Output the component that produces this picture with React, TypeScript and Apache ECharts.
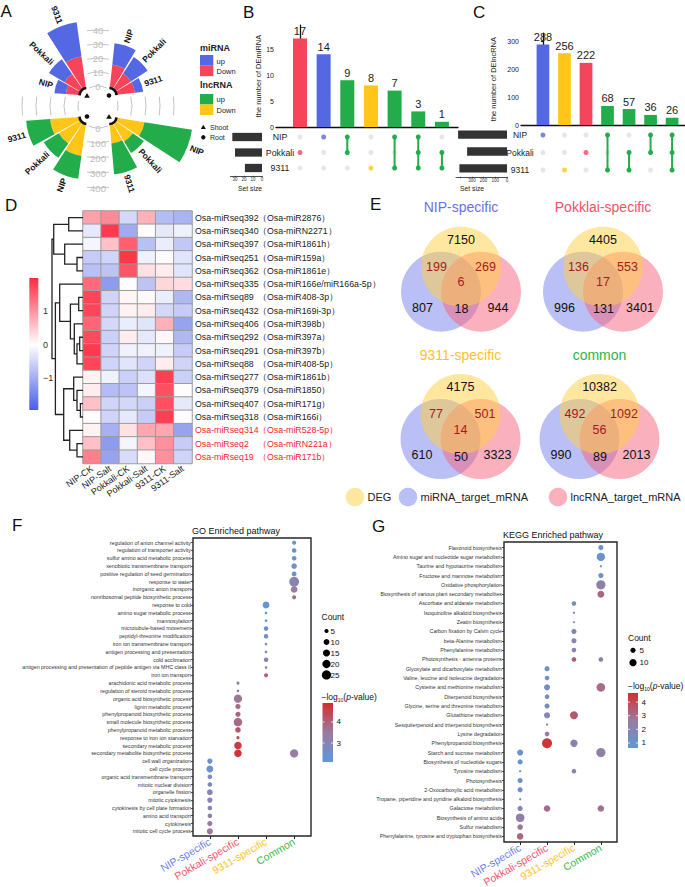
import React, { useEffect, useRef } from "react";
import * as echarts from "echarts";

const FONT = "'Liberation Sans', Arial, Helvetica, sans-serif";
const C_BLUE = "#5568E3";
const C_RED = "#F6455B";
const C_GREEN = "#23AD4A";
const C_YELLOW = "#FFC619";
const C_GRAY = "#E0E0E0";

// ---------------- Panel A (radial bars) ----------------
const miShootCats = ["9311", "Pokkali", "NIP"];
const miShootDown = [19, 11, 8];
const miShootUp = [21, 11, 7];
const miRootCats = ["NIP", "Pokkali", "9311"];
const miRootDown = [14, 11, 11];
const miRootUp = [13, 12, 5];
const lncRootCats = ["9311", "Pokkali", "NIP"];
const lncRootDown = [167, 144, 183];
const lncRootUp = [139, 100, 134];
const lncShootCats = ["NIP", "Pokkali", "9311"];
const lncShootDown = [161, 122, 111];
const lncShootUp = [278, 78, 178];
const miTicks = [0, 10, 20, 30, 40];
const lncTicks = [0, 100, 200, 300, 400];

// ---------------- Panels B / C (upset) ----------------
const setNames = ["NIP", "Pokkali", "9311"];
const miCombos = [["Pokkali"], ["NIP"], ["NIP", "Pokkali"], ["9311"], ["NIP", "9311"], ["NIP", "Pokkali", "9311"], ["Pokkali", "9311"]];
const miComboCounts = [17, 14, 9, 8, 7, 3, 1];
const miSetSize = [33, 30, 19];
const miSetTicks = [0, 10, 20, 30];
const lncCombos = [["NIP"], ["9311"], ["Pokkali"], ["NIP", "9311"], ["Pokkali", "9311"], ["NIP", "Pokkali"], ["NIP", "Pokkali", "9311"]];
const lncComboCounts = [288, 256, 222, 68, 57, 36, 26];
const lncSetSize = [418, 341, 407];
const lncSetTicks = [0, 100, 200, 300];

// ---------------- Panel D (heatmap) ----------------
const hmRows = ["Osa-miRseq392", "Osa-miRseq340", "Osa-miRseq397", "Osa-miRseq251", "Osa-miRseq362", "Osa-miRseq335", "Osa-miRseq89", "Osa-miRseq432", "Osa-miRseq406", "Osa-miRseq292", "Osa-miRseq291", "Osa-miRseq88", "Osa-miRseq277", "Osa-miRseq379", "Osa-miRseq407", "Osa-miRseq318", "Osa-miRseq314", "Osa-miRseq2", "Osa-miRseq19"];
const hmAlias = ["Osa-miR2876", "Osa-miRN2271", "Osa-miR1861h", "Osa-miR159a", "Osa-miR1861e", "Osa-miR166e/miR166a-5p", "Osa-miR408-3p", "Osa-miR169i-3p", "Osa-miR398b", "Osa-miR397a", "Osa-miR397b", "Osa-miR408-5p", "Osa-miR1861b", "Osa-miR1850", "Osa-miR171g", "Osa-miR166i", "Osa-miR528-5p", "Osa-miRN221a", "Osa-miR171b"];
const hmCols = ["NIP-CK", "NIP-Salt", "Pokkali-CK", "Pokkali-Salt", "9311-CK", "9311-Salt"];
const hmValues = [
  [0.9, 1.1, -0.45, 0.75, -0.8, -0.9],
  [-0.25, 1.85, -1.0, 0.05, -0.25, -0.15],
  [-0.1, 0.6, 1.5, -0.75, -0.2, -0.65],
  [-0.6, -0.5, 1.9, -0.15, 0.05, -0.3],
  [-0.75, -0.7, 1.6, 0.3, 0.2, -0.3],
  [1.4, -1.2, 0.0, -0.7, 0.4, 0.35],
  [1.75, -0.5, 0.12, 0.08, -0.2, -0.85],
  [1.75, -0.5, 0.15, 0.2, -0.45, -0.6],
  [1.45, -0.45, -0.2, -0.3, 0.75, -1.1],
  [1.7, -0.55, 0.2, -0.25, 0.1, -0.85],
  [1.85, -0.5, -0.15, -0.15, -0.15, -0.6],
  [1.75, -0.5, -0.3, -0.5, 0.2, -0.5],
  [0.15, -0.15, -0.55, -0.35, 1.8, -0.55],
  [0.2, -0.8, -0.7, -0.1, 1.65, 0.05],
  [0.6, -0.5, -0.45, -0.55, 1.65, -0.25],
  [0.05, -0.5, -0.25, -0.6, 1.8, 0.05],
  [0.15, -0.95, 0.3, 0.85, 0.85, -1.1],
  [0.6, -1.2, -0.1, 0.6, 1.05, -0.6],
  [1.2, -1.1, -0.4, 0.1, 1.05, -0.5],
];
const hmHighlight = ["Osa-miRseq314", "Osa-miRseq2", "Osa-miRseq19"];
const hmMin = -1.95;
const hmMax = 2.0;
const hmTicks = [1, 0, -1];
// [left child, right child, height]; leaves 0..18, merged nodes 19..
const dendroMerges = [
  [3, 4, 6], [2, 19, 18.3], [0, 1, 14.3], [21, 20, 29.3],
  [6, 7, 4.3], [9, 10, 3.3], [24, 11, 6], [8, 25, 8.7], [23, 26, 12.6], [5, 27, 23.3],
  [14, 15, 2.6], [13, 29, 6], [12, 30, 9.3], [17, 18, 6], [16, 32, 13.3],
  [31, 33, 19.3], [28, 34, 27.6], [22, 35, 31],
];

// ---------------- Panel E (venn) ----------------
const vennTitles = ["NIP-specific", "Pokklai-specific", "9311-specific", "common"];
const vennTitleColors = ["#6474E6", "#F2506A", "#FFC21F", "#2EB34C"];
const vennDEG = [7150, 4405, 4175, 10382];
const vennDEGmi = [199, 136, 77, 492];
const vennDEGlnc = [269, 553, 501, 1092];
const vennAll = [6, 17, 14, 56];
const vennMi = [807, 996, 610, 990];
const vennMiLnc = [18, 131, 50, 89];
const vennLnc = [944, 3401, 3323, 2013];
const vennLegend = ["DEG", "miRNA_target_mRNA", "lncRNA_target_mRNA"];

// ---------------- Panel F (GO) ----------------
const enrichCols = ["NIP-specific", "Pokkali-specific", "9311-specific", "Common"];
const enrichColColors = ["#6B7CEB", "#F4516E", "#FFC21A", "#33B847"];
const goTerms = [
  "regulation of anion channel activity", "regulation of transporter activity", "sulfur amino acid metabolic process",
  "xenobiotic transmembrane transport", "positive regulation of seed germination", "response to water",
  "inorganic anion transport", "nonribosomal peptide biosynthetic process", "response to cold",
  "amino sugar metabolic process", "mannosylation", "microtubule-based movement", "peptidyl-threonine modification",
  "iron ion transmembrane transport", "antigen processing and presentation", "cold acclimation",
  "antigen processing and presentation of peptide antigen via MHC class II", "iron ion transport",
  "arachidonic acid metabolic process", "regulation of steroid metabolic process", "organic acid biosynthetic process",
  "lignin metabolic process", "phenylpropanoid biosynthetic process", "small molecule biosynthetic process",
  "phenylpropanoid metabolic process", "response to iron ion starvation", "secondary metabolic process",
  "secondary metabolite biosynthetic process", "cell wall organization", "cell cycle process",
  "organic acid transmembrane transport", "mitotic nuclear division", "organelle fission", "mitotic cytokinesis",
  "cytokinesis by cell plate formation", "amino acid transport", "cytokinesis", "mitotic cell cycle process",
];
// [term index, count, -log10(p)]
const goNIP = [[28, 8, 2.3], [29, 14, 2.4], [30, 6, 2.7], [31, 6, 2.9], [32, 10, 3.0], [33, 8, 3.0], [34, 6, 3.1], [35, 6, 3.2], [36, 8, 3.4], [37, 11, 3.5]];
const goPokkali = [[18, 3, 3.4], [19, 2, 3.5], [20, 20, 3.6], [21, 8, 3.8], [22, 8, 3.9], [23, 21, 3.8], [24, 9, 4.2], [25, 3, 4.5], [26, 17, 4.7], [27, 17, 4.8]];
const go9311 = [[8, 14, 2.2], [9, 2, 2.3], [10, 2, 2.3], [11, 6, 2.4], [12, 6, 2.6], [13, 2, 2.8], [14, 2, 2.9], [15, 6, 3.1], [16, 2, 3.3], [17, 5, 3.9]];
const goCommon = [[0, 5, 2.3], [1, 6, 2.3], [2, 6, 2.4], [3, 9, 2.5], [4, 7, 2.5], [5, 28, 3.1], [6, 13, 3.4], [7, 5, 3.7], [27, 20, 3.4]];
const goCountLegend = [5, 10, 15, 20, 25];
const goPTicks = [3, 4];

// ---------------- Panel G (KEGG) ----------------
const keggTerms = [
  "Flavonoid biosynthesis", "Amino sugar and nucleotide sugar metabolism", "Taurine and hypotaurine metabolism",
  "Fructose and mannose metabolism", "Oxidative phosphorylation", "Biosynthesis of various plant secondary metabolites",
  "Ascorbate and aldarate metabolism", "Isoquinoline alkaloid biosynthesis", "Zeatin biosynthesis",
  "Carbon fixation by Calvin cycle", "beta-Alanine metabolism", "Phenylalanine metabolism",
  "Photosynthesis - antenna proteins", "Glyoxylate and dicarboxylate metabolism", "Valine, leucine and isoleucine degradation",
  "Cysteine and methionine metabolism", "Diterpenoid biosynthesis", "Glycine, serine and threonine metabolism",
  "Glutathione metabolism", "Sesquiterpenoid and triterpenoid biosynthesis", "Lysine degradation",
  "Phenylpropanoid biosynthesis", "Starch and sucrose metabolism", "Biosynthesis of nucleotide sugars",
  "Tyrosine metabolism", "Photosynthesis", "2-Oxocarboxylic acid metabolism",
  "Tropane, piperidine and pyridine alkaloid biosynthesis", "Galactose metabolism", "Biosynthesis of amino acids",
  "Sulfur metabolism", "Phenylalanine, tyrosine and tryptophan biosynthesis",
];
const keggNIP = [[22, 7, 1.0], [23, 5, 1.0], [24, 1, 1.1], [25, 5, 1.1], [26, 5, 1.2], [27, 1, 1.3], [28, 5, 1.8], [29, 14, 2.3], [30, 6, 2.8], [31, 8, 3.2]];
const keggPokkali = [[13, 5, 1.2], [14, 4, 1.2], [15, 7, 1.3], [16, 4, 1.4], [17, 5, 1.5], [18, 7, 1.8], [19, 1, 1.9], [20, 4, 2.4], [21, 19, 4.5], [28, 8, 3.0]];
const kegg9311 = [[6, 4, 1.6], [7, 1, 1.5], [8, 1, 1.6], [9, 5, 1.9], [10, 5, 2.0], [11, 4, 2.1], [12, 4, 3.4], [18, 12, 3.6], [21, 10, 2.2], [24, 4, 1.9]];
const keggCommon = [[0, 5, 1.0], [1, 13, 1.0], [2, 1, 1.1], [3, 5, 1.1], [4, 16, 2.2], [5, 9, 3.2], [12, 4, 2.2], [15, 14, 3.0], [22, 16, 2.3], [28, 8, 2.9]];
const keggCountLegend = [5, 10];
const keggPTicks = [1, 2, 3, 4];

const bubbleColors = ["#5F98D6", "#9A7B9F", "#D52E2E"];
const heatColors = ["#4A5EE5", "#FFFFFF", "#FF2A40"];

function txt(x: number, y: number, text: string, o: any = {}) {
  const align = o.align || "left";
  const va = o.va || "middle";
  return {
    type: "text",
    x,
    y,
    rotation: o.rotation || 0,
    silent: true,
    z: 50,
    style: {
      text,
      fill: o.color || "#222",
      fontSize: o.size || 10,
      fontFamily: FONT,
      fontWeight: o.weight || "normal",
      fontStyle: o.fontStyle || "normal",
      align,
      verticalAlign: va,
      textAlign: align,
      textVerticalAlign: va,
      rich: o.rich,
    },
  };
}

const quads = [
  { c: [87, 95.5], s: 97, e: 177, cw: false, cats: miShootCats, down: miShootDown, up: miShootUp, max: 51, cd: C_RED, cu: C_BLUE, marker: "tri" },
  { c: [109, 95.5], s: 85, e: 5, cw: true, cats: miRootCats, down: miRootDown, up: miRootUp, max: 51, cd: C_RED, cu: C_BLUE, marker: "dot" },
  { c: [87, 116.5], s: 183, e: 263, cw: false, cats: lncRootCats, down: lncRootDown, up: lncRootUp, max: 485, cd: C_YELLOW, cu: C_GREEN, marker: "dot" },
  { c: [109, 116.5], s: 352, e: 274, cw: true, cats: lncShootCats, down: lncShootDown, up: lncShootUp, max: 485, cd: C_YELLOW, cu: C_GREEN, marker: "tri" },
];

function comboColor(combo: string[]) {
  if (combo.length > 1) return C_GREEN;
  return combo[0] === "NIP" ? C_BLUE : combo[0] === "Pokkali" ? C_RED : C_YELLOW;
}

function buildOption() {
  const grids: any[] = [];
  const xAxes: any[] = [];
  const yAxes: any[] = [];
  const series: any[] = [];
  const polars: any[] = [];
  const angleAxes: any[] = [];
  const radiusAxes: any[] = [];
  const visualMaps: any[] = [];
  const graphics: any[] = [];
  const upSeries: number[] = [];

  // ---------- A ----------
  quads.forEach((q, k) => {
    polars.push({ center: q.c, radius: [8, 92] });
    angleAxes.push({ polarIndex: k, type: "category", data: q.cats, startAngle: q.s, endAngle: q.e, clockwise: q.cw, show: false });
    radiusAxes.push({ polarIndex: k, type: "value", min: 0, max: q.max, show: false });
    series.push({ type: "bar", coordinateSystem: "polar", polarIndex: k, stack: "q" + k, data: q.down, barCategoryGap: "8%", itemStyle: { color: q.cd } });
    upSeries.push(series.length);
    series.push({ type: "bar", coordinateSystem: "polar", polarIndex: k, stack: "q" + k, data: q.up, barCategoryGap: "8%", itemStyle: { color: q.cu } });
    const lo = Math.min(q.s, q.e) - 2;
    const hi = Math.max(q.s, q.e) + 2;
    graphics.push({ type: "arc", z: 40, shape: { cx: q.c[0], cy: q.c[1], r: 7.5, startAngle: (-hi * Math.PI) / 180, endAngle: (-lo * Math.PI) / 180, clockwise: true }, style: { stroke: "#111", lineWidth: 2.6, fill: "none" } });
    if (q.marker === "tri") {
      graphics.push({ type: "polygon", z: 40, shape: { points: [[q.c[0] - 2.8, q.c[1] + 2.2], [q.c[0] + 2.8, q.c[1] + 2.2], [q.c[0], q.c[1] - 2.6]] }, style: { fill: "#111" } });
    } else {
      graphics.push({ type: "circle", z: 40, shape: { cx: q.c[0], cy: q.c[1], r: 2.3 }, style: { fill: "#111" } });
    }
  });
  const AC = [98, 106];
  const gridGray = "#C4C4C4";
  miTicks.forEach((v) => {
    const r = 20 + v * 1.4;
    const a = Math.min(11, 0.45 * r) / r;
    graphics.push({ type: "arc", z: 5, shape: { cx: AC[0], cy: AC[1], r, startAngle: -Math.PI / 2 - a, endAngle: -Math.PI / 2 + a, clockwise: true }, style: { stroke: gridGray, lineWidth: 1, fill: "none" } });
    graphics.push(txt(AC[0], AC[1] - r, String(v), { size: 9.5, color: "#BDBDBD", align: "center" }));
    const h = r < 25 ? 5 : 9.5;
    const b = h / r;
    graphics.push({ type: "arc", z: 5, shape: { cx: AC[0], cy: AC[1], r, startAngle: -b, endAngle: b, clockwise: true }, style: { stroke: gridGray, lineWidth: 1, fill: "none" } });
    graphics.push({ type: "arc", z: 5, shape: { cx: AC[0], cy: AC[1], r, startAngle: Math.PI - b, endAngle: Math.PI + b, clockwise: true }, style: { stroke: gridGray, lineWidth: 1, fill: "none" } });
  });
  lncTicks.forEach((v) => {
    const r = 22 + v * 0.15;
    const a = Math.min(11, 0.45 * r) / r;
    graphics.push({ type: "arc", z: 5, shape: { cx: AC[0], cy: AC[1], r, startAngle: Math.PI / 2 - a, endAngle: Math.PI / 2 + a, clockwise: true }, style: { stroke: gridGray, lineWidth: 1, fill: "none" } });
    graphics.push(txt(AC[0], AC[1] + r, String(v), { size: 9.5, color: "#BDBDBD", align: "center" }));
  });
  // legend A
  graphics.push(txt(200, 48, "miRNA", { size: 9, weight: "bold" }));
  graphics.push({ type: "rect", shape: { x: 200, y: 55, width: 13.3, height: 10.7 }, style: { fill: C_BLUE } });
  graphics.push({ type: "rect", shape: { x: 200, y: 65.7, width: 13.3, height: 10.5 }, style: { fill: C_RED } });
  graphics.push(txt(216.5, 61, "up", { size: 7.5 }));
  graphics.push(txt(216.5, 71.5, "Down", { size: 7.5 }));
  graphics.push(txt(200, 85, "lncRNA", { size: 9, weight: "bold" }));
  graphics.push({ type: "rect", shape: { x: 200, y: 94, width: 13.3, height: 10.5 }, style: { fill: C_GREEN } });
  graphics.push({ type: "rect", shape: { x: 200, y: 104.5, width: 13.3, height: 10.5 }, style: { fill: C_YELLOW } });
  graphics.push(txt(216.5, 99.5, "up", { size: 7.5 }));
  graphics.push(txt(216.5, 110, "Down", { size: 7.5 }));
  graphics.push({ type: "polygon", shape: { points: [[200.8, 129], [205.8, 129], [203.3, 124.8]] }, style: { fill: "#111" } });
  graphics.push(txt(210, 127.3, "Shoot", { size: 7 }));
  graphics.push({ type: "circle", shape: { cx: 203.3, cy: 137.3, r: 2.2 }, style: { fill: "#111" } });
  graphics.push(txt(210, 137.3, "Root", { size: 7 }));

  // ---------- B / C ----------
  function addUpset(cfg: any) {
    const gi = grids.length;
    grids.push({ left: cfg.left, top: cfg.top, width: cfg.width, height: cfg.height, outerBoundsMode: "none" });
    const xi = xAxes.length;
    xAxes.push({ gridIndex: gi, type: "value", min: cfg.xmin, max: cfg.xmax, axisLine: { show: true, onZero: false, lineStyle: { color: "#111", width: 1.3 } }, axisTick: { show: false }, axisLabel: { show: false }, splitLine: { show: false } });
    const yi = yAxes.length;
    yAxes.push({
      gridIndex: gi, type: "value", min: 0, max: cfg.ymax, interval: cfg.interval,
      name: cfg.yName, nameLocation: "middle", nameGap: cfg.nameGap, nameRotate: 90,
      nameTextStyle: { fontSize: 7.5, color: "#222", fontFamily: FONT },
      axisLine: { show: true, lineStyle: { color: "#111", width: 1.3 } },
      axisTick: { show: true, length: 2, lineStyle: { color: "#111" } },
      axisLabel: { fontSize: 7, color: "#222", margin: 2, showMaxLabel: false, fontFamily: FONT },
      splitLine: { show: false },
    });
    series.push({
      type: "bar", xAxisIndex: xi, yAxisIndex: yi, barWidth: cfg.barWidth,
      data: cfg.counts.map((v: number, i: number) => ({ value: [i, v], itemStyle: { color: comboColor(cfg.combos[i]) } })),
      label: { show: true, position: "top", distance: 2, fontSize: 11, color: "#222", fontFamily: FONT, formatter: (p: any) => String(p.value[1]) },
    });
    // matrix
    const mi = grids.length;
    grids.push({ left: cfg.left, top: cfg.mTop, width: cfg.width, height: cfg.mHeight, outerBoundsMode: "none" });
    const mxi = xAxes.length;
    xAxes.push({ gridIndex: mi, type: "value", min: cfg.xmin, max: cfg.xmax, show: false });
    const myi = yAxes.length;
    yAxes.push({ gridIndex: mi, type: "value", min: -0.5, max: 2.5, inverse: true, show: false });
    const gray: number[][] = [];
    const single: any[] = [];
    cfg.combos.forEach((combo: string[], i: number) => {
      setNames.forEach((s, j) => {
        if (!combo.includes(s)) gray.push([i, j]);
      });
      if (combo.length === 1) single.push({ value: [i, setNames.indexOf(combo[0])], itemStyle: { color: comboColor(combo) } });
    });
    series.push({ type: "scatter", xAxisIndex: mxi, yAxisIndex: myi, data: gray, symbolSize: 5, itemStyle: { color: C_GRAY } });
    series.push({ type: "scatter", xAxisIndex: mxi, yAxisIndex: myi, data: single, symbolSize: 5 });
    cfg.combos.forEach((combo: string[], i: number) => {
      if (combo.length > 1) {
        const pts = combo.map((s) => [i, setNames.indexOf(s)]).sort((a, b) => a[1] - b[1]);
        series.push({ type: "line", xAxisIndex: mxi, yAxisIndex: myi, data: pts, symbol: "circle", symbolSize: 5, lineStyle: { color: C_GREEN, width: 2 }, itemStyle: { color: C_GREEN } });
      }
    });
    // set size
    const si = grids.length;
    grids.push({ left: cfg.ssLeft, top: cfg.mTop, width: cfg.ssWidth, height: cfg.ssHeight, outerBoundsMode: "none" });
    const sxi = xAxes.length;
    const ticks: number[] = cfg.ssTicks;
    xAxes.push({
      gridIndex: si, type: "value", inverse: true, min: 0, max: cfg.ssMax, interval: cfg.ssInterval,
      axisLine: { show: true, lineStyle: { color: "#222", width: 0.8 } },
      axisTick: { show: true, length: 1.5, lineStyle: { color: "#222", width: 0.6 } },
      axisLabel: { fontSize: 4.5, margin: 1.2, color: "#333", showMaxLabel: false, fontFamily: FONT, formatter: (v: number) => (ticks.includes(v) ? String(v) : "") },
      splitLine: { show: false },
    });
    const syi = yAxes.length;
    yAxes.push({ gridIndex: si, type: "category", data: setNames, inverse: true, show: false });
    series.push({ type: "bar", xAxisIndex: sxi, yAxisIndex: syi, data: cfg.setSize, barWidth: 8.3, itemStyle: { color: "#333" } });
    setNames.forEach((s, j) => graphics.push(txt(cfg.labelX, cfg.mTop + (cfg.mHeight * (j + 0.5)) / 3, s, { size: cfg.labelSize, align: "center" })));
    graphics.push(txt(cfg.ssLabelX, 188.5, "Set size", { size: 6.8, align: "center" }));
  }
  addUpset({
    left: 276, top: 25.1, width: 182, height: 101.9, xmin: -1.014, xmax: 6.68, ymax: 19.6, interval: 5,
    yName: "the number of DEmiRNA", nameGap: 13, barWidth: 14, combos: miCombos, counts: miComboCounts,
    mTop: 129.25, mHeight: 46.5, ssLeft: 230.5, ssWidth: 31.5, ssHeight: 46.5, ssMax: 35, ssInterval: 10, ssTicks: miSetTicks, setSize: miSetSize,
    labelX: 280, ssLabelX: 250, labelSize: 8.8,
  });
  addUpset({
    left: 521, top: 33.2, width: 164, height: 91.8, xmin: -1.02, xmax: 6.6, ymax: 328, interval: 100,
    yName: "the number of DElncRNA", nameGap: 24, barWidth: 12.7, combos: lncCombos, counts: lncComboCounts,
    mTop: 126.25, mHeight: 52.5, ssLeft: 456, ssWidth: 51, ssHeight: 50.5, ssMax: 436, ssInterval: 100, ssTicks: lncSetTicks, setSize: lncSetSize,
    labelX: 520, ssLabelX: 472, labelSize: 8.5,
  });

  // ---------- D ----------
  const hi = grids.length;
  grids.push({ left: 83, top: 211, width: 109, height: 252.5, outerBoundsMode: "none" });
  const hxi = xAxes.length;
  xAxes.push({ gridIndex: hi, type: "category", data: hmCols, axisLine: { show: false }, axisTick: { show: false }, axisLabel: { rotate: 35, fontSize: 9, margin: 4, color: "#222", fontFamily: FONT, interval: 0 }, splitLine: { show: false } });
  const hyi = yAxes.length;
  yAxes.push({ gridIndex: hi, type: "category", data: hmRows, inverse: true, position: "right", axisLine: { show: false }, axisTick: { show: false }, axisLabel: { fontSize: 8.8, margin: 3, interval: 0, fontFamily: FONT, color: (v: any) => (hmHighlight.includes(String(v)) ? "#F0262C" : "#222") } });
  const aliasLabels = hmAlias.map((a) => "（" + a + "）");
  yAxes.push({ gridIndex: hi, type: "category", data: aliasLabels, inverse: true, position: "right", offset: 63, axisLine: { show: false }, axisTick: { show: false }, axisLabel: { fontSize: 8.8, margin: 3, interval: 0, fontFamily: FONT, color: (v: any) => { const k = aliasLabels.indexOf(String(v)); return k >= 0 && hmHighlight.includes(hmRows[k]) ? "#F0262C" : "#222"; } } });
  const hmData: number[][] = [];
  hmValues.forEach((row, r) => row.forEach((v, c) => hmData.push([c, r, v])));
  const heatSeriesIndex = series.length;
  series.push({ type: "heatmap", xAxisIndex: hxi, yAxisIndex: hyi, data: hmData, itemStyle: { borderColor: "#9C9C9C", borderWidth: 1 } });
  visualMaps.push({ show: false, seriesIndex: heatSeriesIndex, dimension: 2, min: hmMin, max: hmMax, inRange: { color: heatColors } });
  // dendrogram
  const di = grids.length;
  grids.push({ left: 52, top: 211, width: 31, height: 252.5, outerBoundsMode: "none" });
  const dxi = xAxes.length;
  xAxes.push({ gridIndex: di, type: "value", min: 0, max: 31, inverse: true, show: false });
  const dyi = yAxes.length;
  yAxes.push({ gridIndex: di, type: "value", min: -0.5, max: 18.5, inverse: true, show: false });
  const nodeY: number[] = hmRows.map((_, i) => i);
  const nodeH: number[] = hmRows.map(() => 0);
  const dLines: any[] = [];
  dendroMerges.forEach(([a, b, h]) => {
    dLines.push({ coords: [[nodeH[a], nodeY[a]], [h, nodeY[a]], [h, nodeY[b]], [nodeH[b], nodeY[b]]] });
    nodeY.push((nodeY[a] + nodeY[b]) / 2);
    nodeH.push(h);
  });
  series.push({ type: "lines", coordinateSystem: "cartesian2d", xAxisIndex: dxi, yAxisIndex: dyi, polyline: true, data: dLines, lineStyle: { color: "#222", width: 1.3, opacity: 1 }, silent: true });
  // colorbar D
  const cbTop = 278, cbH = 132;
  graphics.push({ type: "rect", shape: { x: 29.3, y: cbTop, width: 9, height: cbH }, style: { fill: new echarts.graphic.LinearGradient(0, 0, 0, 1, [{ offset: 0, color: heatColors[2] }, { offset: hmMax / (hmMax - hmMin), color: heatColors[1] }, { offset: 1, color: heatColors[0] }]) } });
  hmTicks.forEach((v) => graphics.push(txt(43, cbTop + ((hmMax - v) / (hmMax - hmMin)) * cbH, v < 0 ? "−" + Math.abs(v) : String(v), { size: 9, color: "#333" })));

  // ---------- E ----------
  const vennCenters = [[461, 266.7], [603, 266.7], [460.5, 414], [599.5, 414]];
  const fillBlue = "rgba(118,128,236,0.5)";
  const fillRed = "rgba(245,98,124,0.5)";
  const fillYellow = "rgba(255,208,66,0.5)";
  vennCenters.forEach(([cx, cy], k) => {
    graphics.push({ type: "circle", z: 1, shape: { cx: cx - 20, cy: cy + 25, r: 40 }, style: { fill: fillBlue } });
    graphics.push({ type: "circle", z: 2, shape: { cx: cx + 20, cy: cy + 25, r: 40 }, style: { fill: fillRed } });
    graphics.push({ type: "circle", z: 3, shape: { cx, cy, r: 40 }, style: { fill: fillYellow } });
    graphics.push(txt(cx, cy - 59.5, vennTitles[k], { size: 14, color: vennTitleColors[k], align: "center" }));
    const dk = "#A8191C";
    graphics.push(txt(cx, cy - 26.7, String(vennDEG[k]), { size: 12.5, color: "#111", align: "center" }));
    graphics.push(txt(cx - 24.5, cy, String(vennDEGmi[k]), { size: 12.5, color: dk, align: "center" }));
    graphics.push(txt(cx + 24.5, cy, String(vennDEGlnc[k]), { size: 12.5, color: dk, align: "center" }));
    graphics.push(txt(cx, cy + 15.6, String(vennAll[k]), { size: 12.5, color: dk, align: "center" }));
    graphics.push(txt(cx - 38.5, cy + 41, String(vennMi[k]), { size: 12.5, color: "#111", align: "center" }));
    graphics.push(txt(cx + 0.5, cy + 42.6, String(vennMiLnc[k]), { size: 12.5, color: "#111", align: "center" }));
    graphics.push(txt(cx + 37, cy + 41, String(vennLnc[k]), { size: 12.5, color: "#111", align: "center" }));
  });
  const legX = [355, 408, 558];
  const legFill = [fillYellow, fillBlue, fillRed];
  vennLegend.forEach((name, i) => {
    graphics.push({ type: "circle", shape: { cx: legX[i], cy: 497, r: 9.3 }, style: { fill: legFill[i] } });
    graphics.push(txt(legX[i] + 12.5, 497, name, { size: 11, color: "#222" }));
  });

  // ---------- F / G ----------
  function addBubble(cfg: any) {
    const n = cfg.terms.length;
    const ux = cfg.box.w / 4.2;
    const uy = cfg.box.h / (n + 0.2);
    const gi = grids.length;
    grids.push({ left: cfg.box.x + 0.1 * ux, top: cfg.box.y + 0.1 * uy, width: 4 * ux, height: n * uy, outerBoundsMode: "none" });
    const xi = xAxes.length;
    xAxes.push({
      gridIndex: gi, type: "category", data: enrichCols, offset: 0.1 * uy,
      axisLine: { show: false }, axisTick: { show: true, alignWithLabel: true, length: 3, lineStyle: { color: "#222", width: 1 } },
      axisLabel: { interval: 0, rotate: 30, fontSize: 10.5, margin: 5, fontFamily: FONT, color: (v: any) => enrichColColors[enrichCols.indexOf(String(v))] || "#222" },
      splitLine: { show: false },
    });
    const yi = yAxes.length;
    yAxes.push({
      gridIndex: gi, type: "category", data: cfg.terms, inverse: true, offset: 0.1 * ux,
      axisLine: { show: false }, axisTick: { show: true, alignWithLabel: true, length: 2, lineStyle: { color: "#222", width: 0.8 } },
      axisLabel: { interval: 0, fontSize: 5.3, margin: 2, color: "#333", fontFamily: FONT },
      splitLine: { show: false },
    });
    const data: number[][] = [];
    cfg.cols.forEach((col: number[][], c: number) => col.forEach(([row, count, p]) => data.push([c, row, count, p])));
    const sIdx = series.length;
    series.push({ type: "scatter", xAxisIndex: xi, yAxisIndex: yi, data, symbolSize: (v: number[]) => cfg.size(v[2]), itemStyle: { opacity: 1 } });
    visualMaps.push({ show: false, seriesIndex: sIdx, dimension: 3, min: cfg.vmin, max: cfg.vmax, inRange: { color: bubbleColors } });
    graphics.push({ type: "rect", z: 30, shape: { x: cfg.box.x, y: cfg.box.y, width: cfg.box.w, height: cfg.box.h }, style: { fill: "none", stroke: "#262626", lineWidth: 1.4 } });
    graphics.push(txt(cfg.box.x - 1, cfg.titleY, cfg.title, { size: 9, color: "#111" }));
    // count legend
    graphics.push(txt(cfg.countX, cfg.countY, "Count", { size: 8.5, color: "#111" }));
    cfg.legendCounts.forEach((c: number, i: number) => {
      graphics.push({ type: "circle", shape: { cx: cfg.legendDotX, cy: cfg.legendY[i], r: cfg.size(c) / 2 }, style: { fill: "#000" } });
      graphics.push(txt(cfg.legendLabelX, cfg.legendY[i], String(c), { size: 8, color: "#111" }));
    });
    graphics.push(txt(cfg.logX, cfg.logY, "−log{sub|10}({it|p}-value)", { size: 8.5, color: "#111", rich: { sub: { fontSize: 5, padding: [5, 0, 0, 0] }, it: { fontStyle: "italic", fontSize: 8.5 } } }));
    const cb = cfg.cbar;
    graphics.push({ type: "rect", shape: { x: cb.x, y: cb.y, width: cb.w, height: cb.h }, style: { fill: new echarts.graphic.LinearGradient(0, 0, 0, 1, [{ offset: 0, color: bubbleColors[2] }, { offset: 0.5, color: bubbleColors[1] }, { offset: 1, color: bubbleColors[0] }]) } });
    cfg.pTicks.forEach((v: number) => {
      const y = cb.y + cb.h - ((v - cfg.vmin) / (cfg.vmax - cfg.vmin)) * cb.h;
      graphics.push({ type: "line", z: 31, shape: { x1: cb.x, y1: y, x2: cb.x + 2, y2: y }, style: { stroke: "#fff", lineWidth: 0.8 } });
      graphics.push({ type: "line", z: 31, shape: { x1: cb.x + cb.w - 2, y1: y, x2: cb.x + cb.w, y2: y }, style: { stroke: "#fff", lineWidth: 0.8 } });
      graphics.push(txt(cb.x + cb.w + 3.5, y, String(v), { size: 8, color: "#111" }));
    });
  }
  addBubble({
    box: { x: 193, y: 538, w: 118, h: 298 }, title: "GO Enriched pathway", titleY: 531, terms: goTerms,
    cols: [goNIP, goPokkali, go9311, goCommon], size: (c: number) => 1.85 * Math.sqrt(c), vmin: 2.1, vmax: 4.9,
    cbar: { x: 322.5, y: 703, w: 10.5, h: 59 }, pTicks: goPTicks, countX: 321.5, countY: 617.3,
    legendCounts: goCountLegend, legendY: [631, 642, 653, 664, 675], legendDotX: 326.5, legendLabelX: 330.5,
    logX: 321.5, logY: 697,
  });
  addBubble({
    box: { x: 504, y: 542, w: 113, h: 300 }, title: "KEGG Enriched pathway", titleY: 535, terms: keggTerms,
    cols: [keggNIP, keggPokkali, kegg9311, keggCommon], size: (c: number) => 2.3 * Math.sqrt(c), vmin: 0.63, vmax: 4.67,
    cbar: { x: 628, y: 693, w: 10, h: 55 }, pTicks: keggPTicks, countX: 628, countY: 638.3,
    legendCounts: keggCountLegend, legendY: [650.3, 662.7], legendDotX: 633, legendLabelX: 639.5,
    logX: 628, logY: 686,
  });

  // panel letters
  [["A", 0.5, 11], ["B", 243, 12.5], ["C", 473, 12], ["D", 5, 205], ["E", 370, 204], ["F", 12, 525.5], ["G", 372, 526.5]].forEach(([l, x, y]) =>
    graphics.push(txt(x as number, y as number, l as string, { size: 17, color: "#111" }))
  );

  const option: any = {
    animation: false,
    backgroundColor: "#ffffff",
    textStyle: { fontFamily: FONT },
    grid: grids,
    xAxis: xAxes,
    yAxis: yAxes,
    polar: polars,
    angleAxis: angleAxes,
    radiusAxis: radiusAxes,
    visualMap: visualMaps,
    series,
  };
  return { option, graphics, upSeries };
}

export default function App() {
  const ref = useRef<HTMLDivElement>(null);
  useEffect(() => {
    if (!ref.current) return;
    const chart = echarts.init(ref.current, null, { renderer: "svg" });
    const { option, graphics, upSeries } = buildOption();
    chart.setOption(option);
    const labels: any[] = [];
    quads.forEach((q, k) => {
      q.cats.forEach((name, i) => {
        const total = q.down[i] + q.up[i];
        let p: any = null;
        try {
          p = chart.convertToPixel({ seriesIndex: upSeries[k] } as any, [total, i] as any);
        } catch (e) {
          p = null;
        }
        if (!p || !isFinite(p[0])) return;
        const dx = p[0] - q.c[0];
        const dy = p[1] - q.c[1];
        const len = Math.hypot(dx, dy) || 1;
        const ux = dx / len;
        const uy = dy / len;
        const theta = Math.atan2(-dy, dx);
        const right = ux >= 0;
        labels.push(txt(p[0] + ux * 3, p[1] + uy * 3, name, { size: 8.5, weight: "bold", color: "#111", align: right ? "left" : "right", rotation: right ? theta : theta - Math.PI }));
      });
    });
    chart.setOption({ graphic: { elements: [...graphics, ...labels] } });
    return () => chart.dispose();
  }, []);
  return <div ref={ref} style={{ position: "absolute", left: 0, top: 0, width: 685, height: 887, background: "#fff" }} />;
}
